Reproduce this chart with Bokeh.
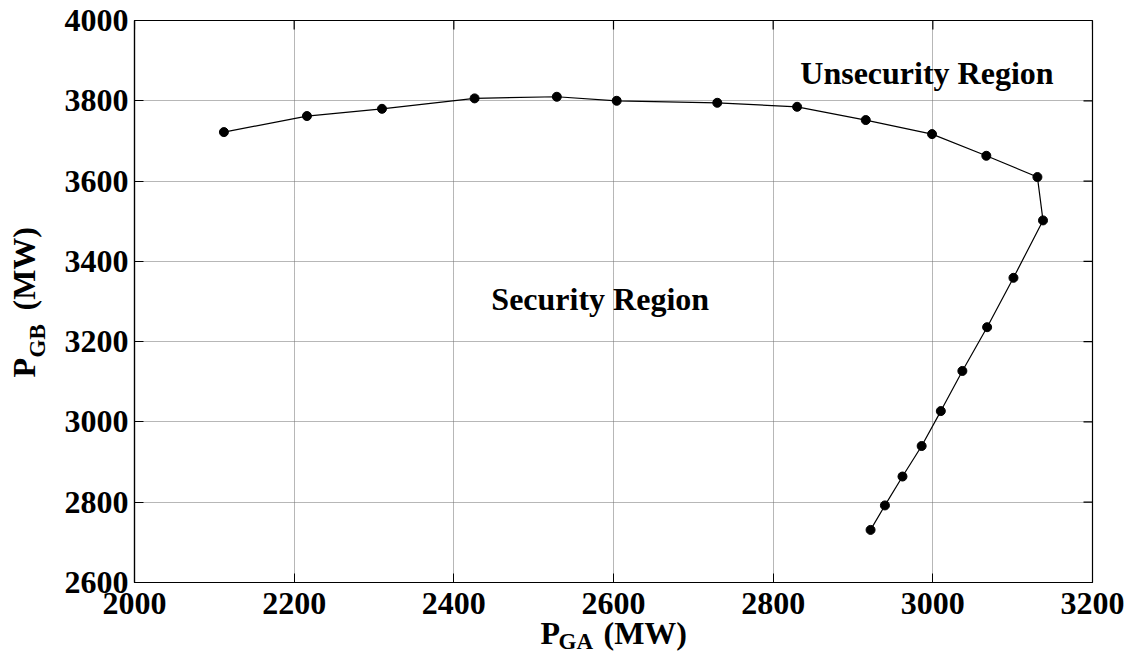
import math
from bokeh.plotting import figure
from bokeh.models import Range1d, FixedTicker, Label
from bokeh.layouts import row, column
from bokeh.embed import file_html
from bokeh.resources import INLINE

# Data
p_ga = [2112, 2216, 2310, 2426, 2529, 2604, 2730, 2830, 2916, 2999, 3067,
        3131, 3138, 3101, 3068, 3037, 3010, 2986, 2962, 2940, 2922]
p_gb = [3722, 3762, 3780, 3806, 3810, 3800, 3795, 3785, 3752, 3717, 3663,
        3610, 3502, 3359, 3236, 3127, 3027, 2940, 2864, 2792, 2731]
x_ticks = [2000, 2200, 2400, 2600, 2800, 3000, 3200]
y_ticks = [2600, 2800, 3000, 3200, 3400, 3600, 3800, 4000]

FONT = "Liberation Serif"
FS = "32px"
SUB = "23px"

YT_W = 60
P_W = 1064
P_H = 630

p = figure(width=P_W, height=P_H, output_backend="svg", toolbar_location=None,
           x_range=Range1d(2000, 3200), y_range=Range1d(2600, 4000),
           min_border_left=74, min_border_right=32, min_border_top=20,
           min_border_bottom=48, frame_align=False)
p.outline_line_color = "black"
p.outline_line_width = 1.2
p.background_fill_color = "white"
p.border_fill_color = "white"

for ax, ticks in ((p.xaxis[0], x_ticks), (p.yaxis[0], y_ticks)):
    ax.ticker = FixedTicker(ticks=ticks)
    ax.axis_line_color = "black"
    ax.axis_line_width = 1.2
    ax.major_tick_line_color = "black"
    ax.major_tick_in = 9
    ax.major_tick_out = 0
    ax.minor_tick_line_color = None
    ax.major_label_text_font = FONT
    ax.major_label_text_font_style = "bold"
    ax.major_label_text_color = "black"
    ax.major_label_text_font_size = FS
    ax.axis_label = None
p.xaxis[0].major_label_standoff = 10
p.yaxis[0].major_label_standoff = 6

for g, ticks in ((p.xgrid[0], x_ticks), (p.ygrid[0], y_ticks)):
    g.ticker = FixedTicker(ticks=ticks)
    g.grid_line_color = "#6e6e6e"
    g.grid_line_dash = "1 1"
    g.grid_line_width = 1

# inward ticks on the top and right edges of the box
p.ray(x=x_ticks, y=[4000] * len(x_ticks), length=9, length_units="screen",
      angle=-math.pi / 2, line_color="black", line_width=1.2)
p.ray(x=[3200] * len(y_ticks), y=y_ticks, length=9, length_units="screen",
      angle=math.pi, line_color="black", line_width=1.2)

p.line(p_ga, p_gb, line_color="black", line_width=1.2)
p.scatter(p_ga, p_gb, marker="circle", size=9, fill_color="black", line_color="black")


def lab(fig, text, x, y, size=FS, xu="data", yu="data", angle=0.0):
    fig.add_layout(Label(text=text, x=x, y=y, x_units=xu, y_units=yu, angle=angle,
                         text_font=FONT, text_font_style="bold", text_font_size=size,
                         text_color="black", text_align="left",
                         text_baseline="alphabetic"))


lab(p, "Unsecurity Region", 2834, 3868)
lab(p, "Security Region", 2447, 3307)


def blank(w, h, **kw):
    f = figure(width=w, height=h, output_backend="svg", toolbar_location=None,
               x_axis_type=None, y_axis_type=None, min_border=0,
               x_range=Range1d(0, 1), y_range=Range1d(0, 1),
               frame_align=False, **kw)
    f.outline_line_color = None
    f.background_fill_color = None
    f.border_fill_color = None
    return f


# y-axis title: P_GB (MW), rotated
yt = blank(YT_W, P_H)
A = math.pi / 2
lab(yt, "P", 23, P_H - 377, xu="screen", yu="screen", angle=A)
lab(yt, "GB", 37, P_H - 357, size=SUB, xu="screen", yu="screen", angle=A)
lab(yt, "(MW)", 23, P_H - 310, xu="screen", yu="screen", angle=A)

# x-axis title: P_GA (MW) (transparent strip overlapping the plot's lower border)
XT_H = 43
xt = blank(YT_W + P_W, XT_H, margin=(-20, 0, 0, 0))
lab(xt, "P", 540, 21, xu="screen", yu="screen")
lab(xt, "GA", 558, 12, size=SUB, xu="screen", yu="screen")
lab(xt, "(MW)", 603, 21, xu="screen", yu="screen")

layout = column(row(yt, p), xt)

open("out.html", "w").write(file_html(layout, INLINE))
